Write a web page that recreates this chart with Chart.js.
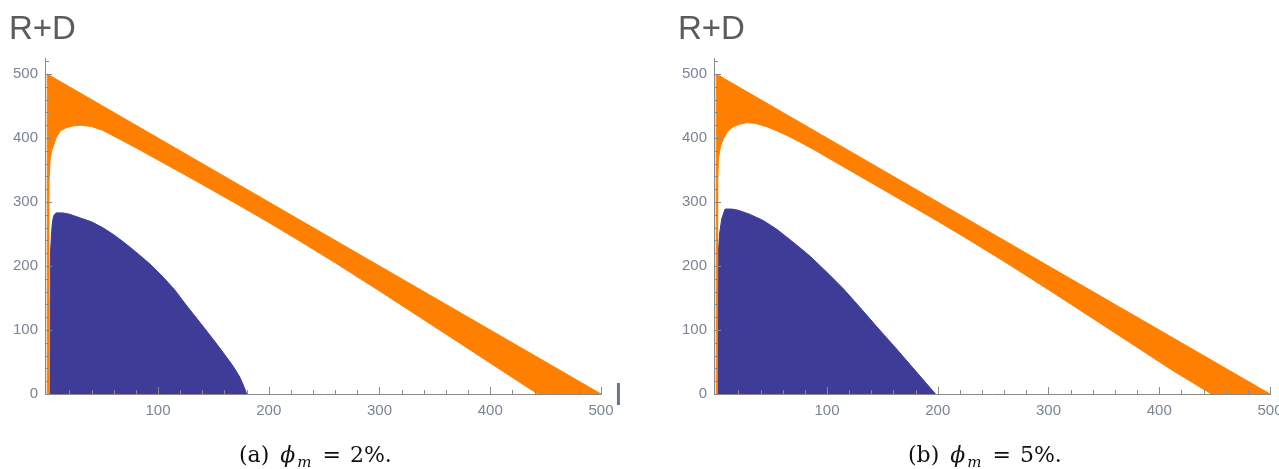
<!DOCTYPE html>
<html><head><meta charset="utf-8">
<script src="https://cdn.jsdelivr.net/npm/chart.js@4.4.1/dist/chart.umd.min.js"></script>
<style>
html,body{margin:0;padding:0;background:#fff;width:1279px;height:469px;overflow:hidden;position:relative}
.panel{position:absolute;top:0;width:640px;height:469px}
.panel canvas{position:absolute;left:0;top:0;width:640px;height:469px}
.ttl{position:absolute;font:33px/1 "Liberation Sans",Arial,sans-serif;color:#5c5c5c;white-space:nowrap}
.ilab{position:absolute;font:32px/1 "Liberation Sans",Arial,sans-serif;color:#6c7686}
.cap{position:absolute;font:22px/1 "DejaVu Serif",serif;color:#111;white-space:nowrap}
.cap .phi{font-style:italic;margin-left:11px}
.cap sub{font-size:15px;font-style:italic;vertical-align:-5px;margin-left:2px;line-height:1}
.cap .eq{margin-left:11px}
.cap .val{margin-left:9px}
</style>
</head>
<body>
<div class="panel" style="left:0">
  <canvas id="ca" width="640" height="469"></canvas>
  <div class="ttl" style="left:9px;top:11px">R+D</div>
  <div class="ilab" style="left:614px;top:378px">I</div>
  <div class="cap" style="left:239px;top:444px"><span class="lp">(a)</span><span class="phi">ϕ</span><sub>m</sub><span class="eq">=</span><span class="val">2%.</span></div>
</div>
<div class="panel" style="left:669px">
  <canvas id="cb" width="640" height="469"></canvas>
  <div class="ttl" style="left:9px;top:11px">R+D</div>
  <div class="cap" style="left:239px;top:444px"><span class="lp">(b)</span><span class="phi">ϕ</span><sub>m</sub><span class="eq">=</span><span class="val">5%.</span></div>
</div>
<script>
// ---- axis tick labels ----
const xTickLabels = [100, 200, 300, 400, 500];
const yTickLabels = [0, 100, 200, 300, 400, 500];

// ---- orange band: upper edge (R+D = 500 - I), shared by both panels ----
const upperI = [0, 0, 500];
const upperV = [0, 500, 0];

// ---- panel (a) phi_m = 2% ----
const lowerA_I = [1.2, 1.2, 1.6, 2.7, 4, 5.7, 8, 11.7, 17, 23.7, 30, 40, 50, 60, 70, 84, 105, 130, 150, 174, 200, 228, 260, 300, 340, 372, 410, 443];
const lowerA_V = [0, 300, 330, 367, 380, 388, 400, 411, 416, 419, 420, 418, 412, 403, 394, 381, 361, 337, 317.5, 294, 268, 239, 205, 161, 116, 80, 37, 0];
const blueA_I = [2.5, 2.6, 2.7, 3.5, 4.5, 5.7, 8, 14, 20, 30, 40, 50, 60, 70, 80, 92.8, 105, 115, 125, 137.8, 150, 160, 168, 174, 178, 180];
const blueA_V = [0, 150, 205, 240, 265, 278, 283, 283, 281, 275, 269, 260, 249, 236, 222, 203, 182, 163, 140, 112, 85, 62, 43, 26, 10, 0];

// ---- panel (b) phi_m = 5% ----
const lowerB_I = [1.1, 1.1, 1.4, 2, 4, 6.6, 10, 15.6, 22, 27.6, 35, 45, 55, 65, 75, 88, 105, 130, 150, 174, 200, 228, 260, 300, 340, 372, 410, 447];
const lowerB_V = [0, 300, 330, 368, 388, 399, 410, 418, 422, 424, 423, 418, 411, 403, 394, 382, 365, 340, 320, 296, 270, 241, 207, 163, 118, 82, 39, 0];
const blueB_I = [1.5, 1.6, 1.8, 3, 5, 8, 14, 20, 30, 42.5, 55, 72.5, 85, 102.4, 115, 132, 145, 162, 175, 183, 190, 195, 198];
const blueB_V = [0, 150, 216, 250, 274, 289, 289, 287, 281, 271, 257, 233, 215, 186, 164, 131, 105, 72, 46, 30, 16, 6, 0];

const ORANGE = '#ff8000';
const BLUE = '#3e3c97';
const AXIS = '#8a8a8a';
const LABEL = '#7b8494';

const toPts = (xs, ys) => xs.map((x, i) => ({x: x, y: ys[i]}));

const inwardTicks = {
  id: 'inwardTicks',
  afterDatasetsDraw(chart) {
    const {ctx, scales: {x, y}} = chart;
    ctx.save();
    ctx.strokeStyle = AXIS;
    ctx.lineWidth = 1;
    for (let v = 20; v <= 500; v += 20) {
      const px = Math.round(x.getPixelForValue(v)) + 0.5;
      const len = v % 100 === 0 ? 7 : 4;
      ctx.beginPath();
      ctx.moveTo(px, y.bottom);
      ctx.lineTo(px, y.bottom - len);
      ctx.stroke();
    }
    for (let v = 20; v <= 520; v += 20) {
      const py = Math.round(y.getPixelForValue(v)) + 0.5;
      const len = v % 100 === 0 ? 7 : 4;
      ctx.beginPath();
      ctx.moveTo(x.left, py);
      ctx.lineTo(x.left + len, py);
      ctx.stroke();
    }
    ctx.restore();
  }
};

function makeChart(id, lowI, lowV, bI, bV) {
  const orangePts = toPts(upperI, upperV).concat(toPts(lowI.slice().reverse(), lowV.slice().reverse()));
  const bluePts = toPts(bI, bV);
  const font = {family: '"Liberation Sans", Arial, sans-serif', size: 15};
  return new Chart(document.getElementById(id), {
    type: 'scatter',
    data: {
      datasets: [
        {data: orangePts, showLine: true, fill: 'shape', backgroundColor: ORANGE, borderColor: ORANGE,
         borderWidth: 1, pointRadius: 0, tension: 0},
        {data: bluePts, showLine: true, fill: 'shape', backgroundColor: BLUE, borderColor: BLUE,
         borderWidth: 1, pointRadius: 0, tension: 0}
      ]
    },
    options: {
      responsive: false, animation: false, devicePixelRatio: 1, events: [],
      layout: {padding: {top: 58, right: 39, bottom: 0, left: 0}},
      plugins: {legend: {display: false}, tooltip: {enabled: false}, title: {display: false}},
      scales: {
        x: {
          type: 'linear', min: -2, max: 500,
          grid: {display: false, drawTicks: false},
          border: {display: true, color: AXIS, width: 1},
          afterBuildTicks: s => { s.ticks = xTickLabels.map(v => ({value: v})); },
          afterFit: s => { s.height = 75; },
          ticks: {color: LABEL, font: font, padding: 8, maxRotation: 0, autoSkip: false}
        },
        y: {
          type: 'linear', min: 0, max: 525,
          grid: {display: false, drawTicks: false},
          border: {display: true, color: AXIS, width: 1},
          afterBuildTicks: s => { s.ticks = yTickLabels.map(v => ({value: v})); },
          afterFit: s => { s.width = 45; },
          ticks: {color: LABEL, font: font, padding: 7, autoSkip: false}
        }
      }
    },
    plugins: [inwardTicks]
  });
}

makeChart('ca', lowerA_I, lowerA_V, blueA_I, blueA_V);
makeChart('cb', lowerB_I, lowerB_V, blueB_I, blueB_V);
</script>
</body></html>
